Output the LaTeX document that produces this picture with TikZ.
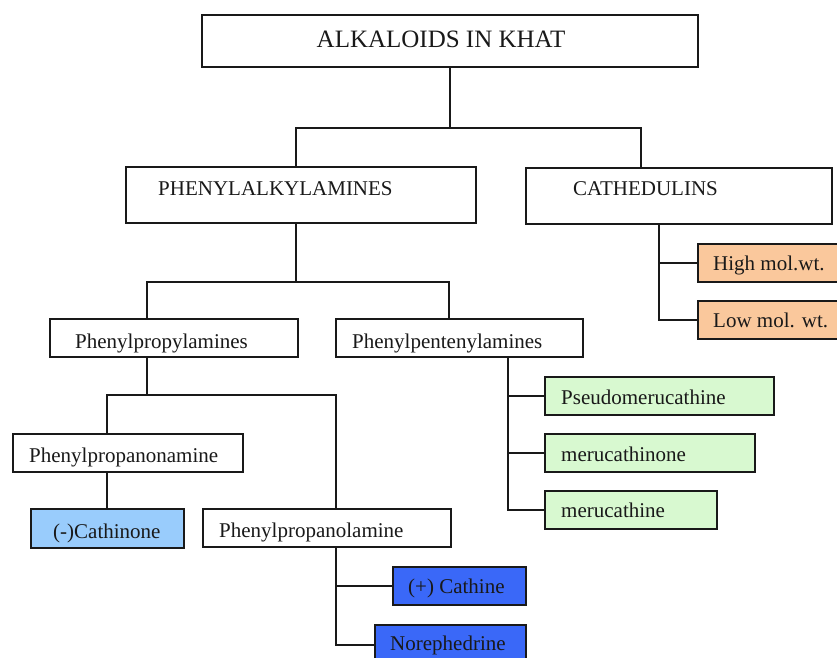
\documentclass[tikz,border=0pt]{standalone}
\usepackage{fontspec}
\setmainfont{Liberation Serif}
\definecolor{peach}{RGB}{250,200,156}
\definecolor{mint}{RGB}{216,249,208}
\definecolor{skyb}{RGB}{153,204,252}
\definecolor{royal}{RGB}{58,104,248}
\definecolor{ink}{RGB}{25,25,25}
\begin{document}
\begin{tikzpicture}[x=1pt,y=-1pt,
  box/.style={draw=ink, line width=1.6pt, inner sep=0pt, anchor=north west},
  lbl/.style={inner sep=0pt, anchor=base west, text=ink, font=\fontsize{21}{24}\selectfont},
  conn/.style={draw=ink, line width=1.6pt}]
\useasboundingbox (0,0) rectangle (837,657);
\fill[white] (0,0) rectangle (837,657);
\clip (0,0) rectangle (837,657);
% boxes
\node[box, minimum width=496, minimum height=52] (top) at (201,14) {};
\node[box, minimum width=350, minimum height=56] (phen) at (125,166) {};
\node[box, minimum width=306, minimum height=56] (cath) at (525,167) {};
\node[box, minimum width=248, minimum height=38] (ppa) at (49,318) {};
\node[box, minimum width=247, minimum height=38] (pea) at (335,318) {};
\node[box, fill=peach, minimum width=146, minimum height=38] (high) at (697,243) {};
\node[box, fill=peach, minimum width=146, minimum height=38] (low) at (697,300) {};
\node[box, fill=mint, minimum width=229, minimum height=38] (pseudo) at (544,376) {};
\node[box, fill=mint, minimum width=210, minimum height=38] (meruone) at (544,433) {};
\node[box, fill=mint, minimum width=172, minimum height=38] (meru) at (544,490) {};
\node[box, minimum width=230, minimum height=38] (ppon) at (12,433) {};
\node[box, fill=skyb, minimum width=153, minimum height=39] (cathinone) at (30,508) {};
\node[box, minimum width=248, minimum height=38] (ppol) at (202,508) {};
\node[box, fill=royal, minimum width=133, minimum height=38] (cathine) at (392,566) {};
\node[box, fill=royal, minimum width=151, minimum height=40] (nor) at (374,624) {};
% labels
\node[lbl, font=\fontsize{25}{28}\selectfont, anchor=base] (ttop) at (441,47) {ALKALOIDS IN KHAT};
\node[lbl] (tphen) at (158,195) {PHENYLALKYLAMINES};
\node[lbl] (tcath) at (573,195) {CATHEDULINS};
\node[lbl] (tppa) at (75,348) {Phenylpropylamines};
\node[lbl] (tpea) at (352,348) {Phenylpentenylamines};
\node[lbl] (thigh) at (713,270) {High mol.wt.};
\node[lbl] (tlow) at (713,327) {Low mol. wt.};
\node[lbl] (tpseudo) at (561,404) {Pseudomerucathine};
\node[lbl] (tmeruone) at (561,461) {merucathinone};
\node[lbl] (tmeru) at (561,517) {merucathine};
\node[lbl] (tppon) at (29,462) {Phenylpropanonamine};
\node[lbl] (tcathinone) at (53,538) {(-)Cathinone};
\node[lbl] (tppol) at (219,537) {Phenylpropanolamine};
\node[lbl] (tcathine) at (408,593) {(+) Cathine};
\node[lbl] (tnor) at (390,650) {Norephedrine};
% junction x positions
\coordinate (xa) at (450,0);
\coordinate (xb) at (296,0);
\coordinate (xc) at (641,0);
\coordinate (xd) at (147,0);
\coordinate (xe) at (449,0);
\coordinate (xf) at (659,0);
\coordinate (xg) at (508,0);
\coordinate (xh) at (107,0);
\coordinate (xi) at (336,0);
% connectors
\draw[conn] (top.south -| xa) -- (450,128);
\draw[conn] (phen.north -| xb) -- (296,128) -- (641,128) -- (cath.north -| xc);
\draw[conn] (phen.south -| xb) -- (296,282);
\draw[conn] (ppa.north -| xd) -- (147,282) -- (449,282) -- (pea.north -| xe);
\draw[conn] (cath.south -| xf) |- (low.west);
\draw[conn] (high.west) -- (high.west -| xf);
\draw[conn] (pea.south -| xg) |- (meru.west);
\draw[conn] (pseudo.west) -- (pseudo.west -| xg);
\draw[conn] (meruone.west) -- (meruone.west -| xg);
\draw[conn] (ppa.south -| xd) -- (147,395);
\draw[conn] (ppon.north -| xh) -- (107,395) -- (336,395) -- (ppol.north -| xi);
\draw[conn] (ppon.south -| xh) -- (cathinone.north -| xh);
\draw[conn] (ppol.south -| xi) |- (nor.west);
\draw[conn] (cathine.west) -- (cathine.west -| xi);
\end{tikzpicture}
\end{document}
